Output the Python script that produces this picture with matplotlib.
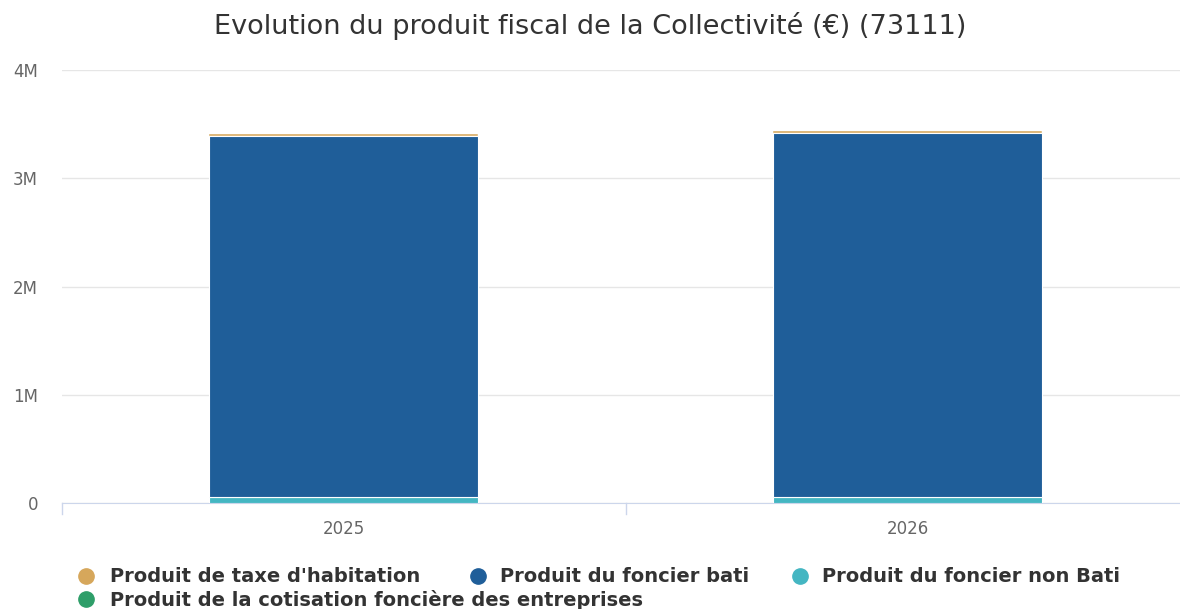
import matplotlib
matplotlib.use("Agg")
import matplotlib.pyplot as plt
from matplotlib.lines import Line2D
from matplotlib.ticker import FuncFormatter, MultipleLocator

years = ["2025", "2026"]
series_names = [
    "Produit de taxe d'habitation",
    "Produit du foncier bati",
    "Produit du foncier non Bati",
    "Produit de la cotisation foncière des entreprises",
]
non_bati = [55000, 55000]
bati = [3335000, 3365000]
habitation = [20000, 20000]
cfe = [0, 0]
colors = {
    "hab": "#D6A75B",
    "bati": "#1F5E99",
    "nonbati": "#44B6C2",
    "cfe": "#2E9E69",
}

FAM = "DejaVu Sans"
plt.rcParams['font.family'] = [FAM]

W, H = 1180, 609
fig = plt.figure(figsize=(W/100, H/100), dpi=100)
ax = fig.add_axes([61.5/W, (H-503)/H, 1128/W, (503-70)/H])

x = list(range(len(years)))
w = 0.477
b1 = non_bati
ax.bar(x, non_bati, w, color=colors["nonbati"], edgecolor="white", linewidth=0.8, zorder=3)
b2 = [a + b for a, b in zip(b1, bati)]
ax.bar(x, bati, w, bottom=b1, color=colors["bati"], edgecolor="white", linewidth=0.8, zorder=3)
b3 = [a + b for a, b in zip(b2, cfe)]
ax.bar(x, cfe, w, bottom=b2, color=colors["cfe"], edgecolor="white", linewidth=0, zorder=3)
ax.bar(x, habitation, w, bottom=b3, color=colors["hab"], edgecolor="white", linewidth=0.3, zorder=3)

ax.set_xlim(-0.5, 1.5)
ax.set_ylim(0, 4000000)
ax.yaxis.set_major_locator(MultipleLocator(1000000))
ax.yaxis.set_major_formatter(FuncFormatter(lambda v, p: "0" if v == 0 else f"{int(v/1e6)}M"))
ax.grid(axis="y", color="#e6e6e6", linewidth=1, zorder=0)
for s in ["top", "right", "left"]:
    ax.spines[s].set_visible(False)
ax.spines["bottom"].set_color("#ccd6eb")
ax.tick_params(axis="y", length=0, labelsize=12, labelcolor="#666666", pad=17)
ax.set_xticks(x)
ax.set_xticklabels(years)
ax.tick_params(axis="x", length=0, labelsize=12, labelcolor="#666666", pad=12)
for xb in [-0.5, 0.5, 1.5]:
    ax.plot([xb, xb], [0, -0.025], transform=ax.get_xaxis_transform(), color="#ccd6eb",
            linewidth=1, clip_on=False)

fig.text(0.5, 1 - 26/H, "Evolution du produit fiscal de la Collectivité (€) (73111)",
         ha="center", va="center", fontsize=19.5, color="#333333")

# legend (Highcharts-style flowing layout)
legend_items = [
    (series_names[0], colors["hab"], 86, 110, 576),
    (series_names[1], colors["bati"], 478, 500, 576),
    (series_names[2], colors["nonbati"], 800, 822, 576),
    (series_names[3], colors["cfe"], 86, 110, 599),
]
for name, c, mx, tx, y in legend_items:
    fig.add_artist(Line2D([mx/W], [1 - y/H], marker="o", linestyle="none", markersize=11,
                          markerfacecolor=c, markeredgecolor=c, transform=fig.transFigure))
    fig.text(tx/W, 1 - (y + 1)/H, name, ha="left", va="center", fontsize=14,
             fontweight="bold", color="#333333")

fig.savefig("out.png", dpi=100)
